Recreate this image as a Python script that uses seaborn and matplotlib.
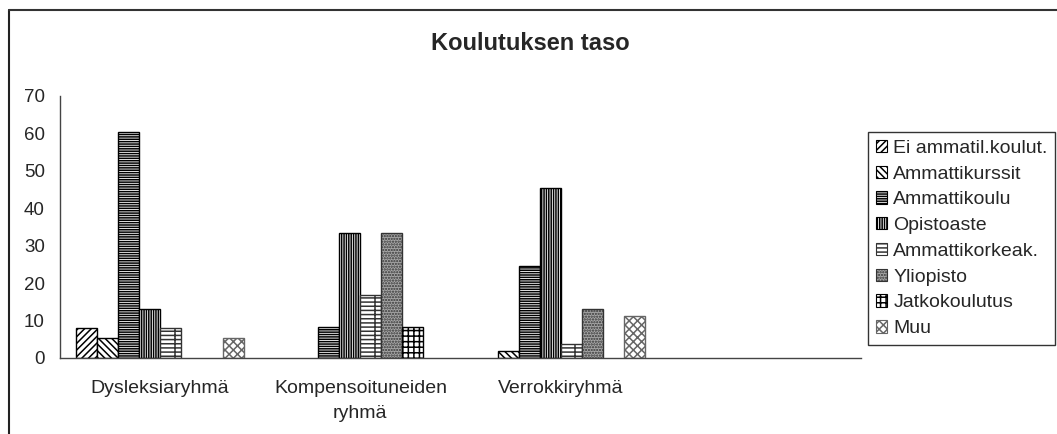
import matplotlib
matplotlib.use("Agg")
import matplotlib.pyplot as plt
from matplotlib.patches import Patch
from matplotlib.lines import Line2D
import numpy as np
import pandas as pd
import seaborn as sns

# groups (4th slot is empty in the original chart)
groups = ["Dysleksiaryhmä", "Kompensoituneiden\nryhmä", "Verrokkiryhmä", ""]
levels = ["Ei ammatil.koulut.", "Ammattikurssit", "Ammattikoulu", "Opistoaste",
          "Ammattikorkeak.", "Yliopisto", "Jatkokoulutus", "Muu"]

# percentages per group, in level order (nan = no bar)
dysleksia = [7.9, 5.3, 60.5, 13.2, 7.9, np.nan, np.nan, 5.3]
kompensoituneet = [np.nan, np.nan, 8.3, 33.3, 16.7, 33.3, 8.3, np.nan]
verrokki = [np.nan, 1.9, 24.5, 45.3, 3.8, 13.2, np.nan, 11.3]
tyhja = [np.nan] * 8

y_ticks = [0, 10, 20, 30, 40, 50, 60, 70]

rows = []
for g, vals in zip(groups, [dysleksia, kompensoituneet, verrokki, tyhja]):
    for lev, v in zip(levels, vals):
        rows.append({"ryhma": g, "taso": lev, "osuus": v})
df = pd.DataFrame(rows)

hatches = ["/////", "\\\\\\\\\\", "-------", "|||||||", "---+", "......", "+++", "xxxx"]
faces = ["white", "white", "white", "white", "white", "#a8a8a8", "white", "white"]
edges = ["black", "black", "black", "black", "#333333", "#333333", "black", "#666666"]

sns.set_style("white")
plt.rcParams["font.family"] = ["Liberation Sans", "DejaVu Sans"]
plt.rcParams["hatch.linewidth"] = 1.1

fig = plt.figure(figsize=(10.57, 4.34), dpi=100)
ax = fig.add_axes([60 / 1057, 76 / 434, 801 / 1057, 262 / 434])

sns.barplot(data=df, x="ryhma", y="osuus", hue="taso", order=groups,
            hue_order=levels, width=0.84, ax=ax, legend=False,
            edgecolor="black", linewidth=1.0)

for cont, h, fc, ec in zip(ax.containers, hatches, faces, edges):
    for p in cont.patches:
        p.set_hatch(h)
        p.set_facecolor(fc)
        p.set_edgecolor(ec)

ax.set_xlim(-0.5, 3.5)
ax.set_ylim(0, 70)
ax.set_yticks(y_ticks)
ax.set_yticklabels([str(t) for t in y_ticks], fontsize=13.5)
ax.set_xticks([-0.5, 0.5, 1.5, 2.5, 3.5])
ax.set_xticklabels([])
ax.set_xticks(range(4), minor=True)
ax.set_xticklabels(groups, minor=True, fontsize=14, linespacing=1.6)
ax.tick_params(axis="x", which="major", direction="out", length=5,
               width=1, color="#444444")
ax.tick_params(axis="x", which="minor", length=0, pad=16)
ax.tick_params(axis="y", direction="out", length=5, width=1,
               color="#444444", pad=6)
ax.set_xlabel("")
ax.set_ylabel("")
sns.despine(ax=ax)
for s in ["left", "bottom"]:
    ax.spines[s].set_color("#444444")
    ax.spines[s].set_linewidth(1)

fig.text(530 / 1057, 1 - 43 / 434, "Koulutuksen taso", ha="center",
         va="center", fontsize=17, fontweight="bold")

handles = [Patch(facecolor=fc, edgecolor=ec, hatch=h, linewidth=0.8)
           for h, fc, ec in zip(hatches, faces, edges)]
leg = fig.legend(handles, levels, loc="upper left",
                 bbox_to_anchor=(868 / 1057, 1 - 132 / 434),
                 fontsize=14, frameon=True, fancybox=False,
                 handlelength=0.6, handleheight=0.6, handletextpad=0.3,
                 labelspacing=0.45, borderpad=0.4, borderaxespad=0)
leg.get_frame().set_edgecolor("black")
leg.get_frame().set_linewidth(1)

# outer chart frame (only top and left are inside the picture)
fig.add_artist(Line2D([9 / 1057, 9 / 1057], [0, 1 - 10 / 434],
                      transform=fig.transFigure, color="#222222", lw=1.5))
fig.add_artist(Line2D([9 / 1057, 1], [1 - 10 / 434, 1 - 10 / 434],
                      transform=fig.transFigure, color="#333333", lw=1.5))

fig.savefig("out.png", dpi=100)
